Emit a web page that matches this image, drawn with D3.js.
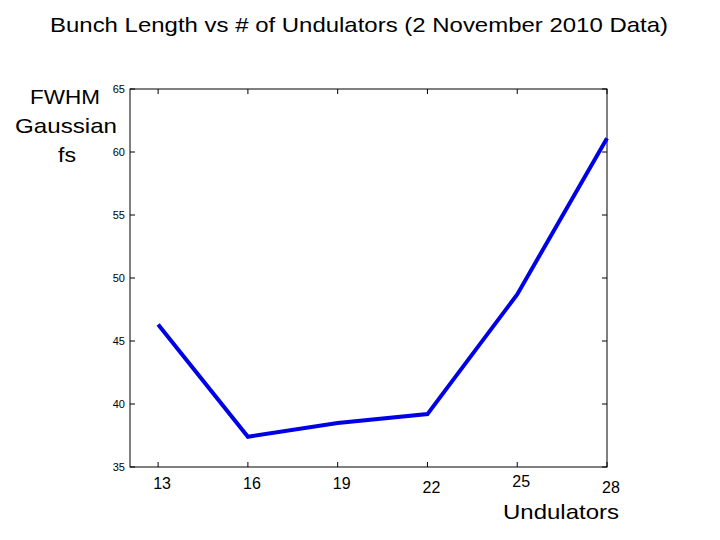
<!DOCTYPE html>
<html><head><meta charset="utf-8">
<script src="https://cdn.jsdelivr.net/npm/d3@7"></script>
<style>body{margin:0;background:#fff}text{font-family:Arial,"Liberation Sans",sans-serif}</style>
</head><body><svg id="c" width="720" height="540"></svg>
<script>
// undulator count vs bunch length (fs)
const undulators = [13, 16, 19, 22, 25, 28];
const bunchLength = [46.3, 37.4, 38.5, 39.2, 48.7, 61.1];
const yTicks = [35, 40, 45, 50, 55, 60, 65];
const xLabelDy = [0, 0, 0, 4, -2, 4]; // labels sit a bit uneven in the original

const svg = d3.select('#c');
const L = 130, R = 607, T = 89, B = 467;
const x = d3.scaleLinear().domain([12.06, 28]).range([L, R]);
const y = d3.scaleLinear().domain([35, 65]).range([B, T]);

svg.append('rect').attr('x', L).attr('y', T).attr('width', R - L).attr('height', B - T)
  .attr('fill', 'none').attr('stroke', '#000').attr('stroke-width', 1);

yTicks.forEach(t => {
  svg.append('line').attr('x1', L).attr('x2', L + 5).attr('y1', y(t)).attr('y2', y(t)).attr('stroke', '#000');
  svg.append('line').attr('x1', R).attr('x2', R - 5).attr('y1', y(t)).attr('y2', y(t)).attr('stroke', '#000');
  svg.append('text').attr('x', 125).attr('y', y(t) + 4).attr('text-anchor', 'end')
    .attr('font-size', 11).text(t);
});

undulators.forEach((u, i) => {
  svg.append('line').attr('x1', x(u)).attr('x2', x(u)).attr('y1', B).attr('y2', B - 5).attr('stroke', '#000');
  svg.append('line').attr('x1', x(u)).attr('x2', x(u)).attr('y1', T).attr('y2', T + 5).attr('stroke', '#000');
  svg.append('text').attr('x', x(u) + 4).attr('y', 489 + xLabelDy[i]).attr('text-anchor', 'middle')
    .attr('font-size', 16).text(u);
});

const line = d3.line().x((d, i) => x(undulators[i])).y(d => y(d));
svg.append('path').datum(bunchLength).attr('d', line)
  .attr('fill', 'none').attr('stroke', '#0000e6').attr('stroke-width', 4);

svg.append('text').attr('x', 50).attr('y', 32).attr('textLength', 618).attr('lengthAdjust', 'spacingAndGlyphs')
  .attr('font-size', 21).text('Bunch Length vs # of Undulators (2 November 2010 Data)');
svg.append('text').attr('x', 503).attr('y', 519).attr('textLength', 116).attr('lengthAdjust', 'spacingAndGlyphs')
  .attr('font-size', 21).text('Undulators');
[['FWHM', 104, 30, 70], ['Gaussian', 133, 15, 102], ['fs', 162, 58, 18]].forEach(([s, yy, xx, w]) => {
  svg.append('text').attr('x', xx).attr('y', yy).attr('textLength', w).attr('lengthAdjust', 'spacingAndGlyphs')
    .attr('font-size', 21).text(s);
});
</script></body></html>
